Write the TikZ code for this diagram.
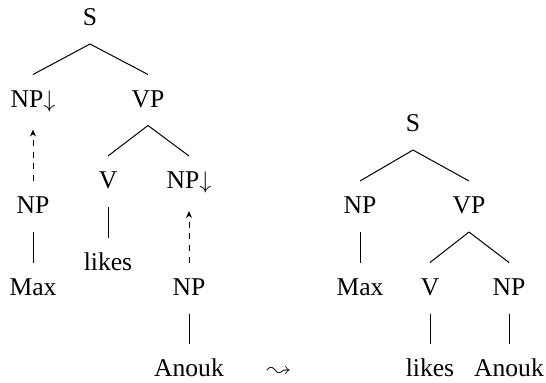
\documentclass[tikz,border=0pt]{standalone}
\usepackage{fontspec}
\setmainfont{Liberation Serif}
\usepackage{amsmath,latexsym}
\usetikzlibrary{arrows.meta}

\begin{document}
\begin{tikzpicture}[x=0.5pt,y=-0.5pt,line width=0.5pt,
    cat/.style={anchor=base,font=\fontsize{12.8}{15}\selectfont,inner xsep=0pt,inner ysep=6pt,text height=10pt,text depth=3pt},
    subst/.style={dash pattern=on 3pt off 2.8pt,-{Stealth[length=3.5pt,width=3pt]},shorten >=2pt}]
  \useasboundingbox (0,0) rectangle (546,382);
  % Elementary trees
  \node[cat] (s1)   at (90,25.5)  {S};
  \node[cat] (np1)  at (33,107)   {NP$\downarrow$};
  \node[cat] (vp1)  at (148,107)  {VP};
  \node[cat] (v1)   at (108,188.5) {V};
  \node[cat] (np2)  at (189,188.5) {NP$\downarrow$};
  \node[cat] (lk1)  at (108,270)  {likes};
  \node[cat] (npm)  at (33,213.5) {NP};
  \node[cat] (max1) at (33,295)   {Max};
  \node[cat] (npa)  at (189,295)  {NP};
  \node[cat] (an1)  at (189,376.5) {Anouk};
  \foreach \a/\b in {s1/np1,s1/vp1,vp1/v1,vp1/np2,v1/lk1,npm/max1,npa/an1}
    \draw (\a.south) -- (\b.north);
  % Substitution
  \draw[subst] (npm.north) -- (np1.south);
  \draw[subst] (npa.north) -- (np2.south);
  \node[cat] (to) at (279,376.5) {$\leadsto$};
  % Derived tree
  \node[cat] (s2)   at (413,131.5) {S};
  \node[cat] (np3)  at (360,213.5) {NP};
  \node[cat] (vp2)  at (469,213.5) {VP};
  \node[cat] (max2) at (360,295)   {Max};
  \node[cat] (v2)   at (430,295)   {V};
  \node[cat] (np4)  at (509,295)   {NP};
  \node[cat] (lk2)  at (430,376.5) {likes};
  \node[cat] (an2)  at (509,376.5) {Anouk};
  \foreach \a/\b in {s2/np3,s2/vp2,np3/max2,vp2/v2,vp2/np4,v2/lk2,np4/an2}
    \draw (\a.south) -- (\b.north);
\end{tikzpicture}
\end{document}
